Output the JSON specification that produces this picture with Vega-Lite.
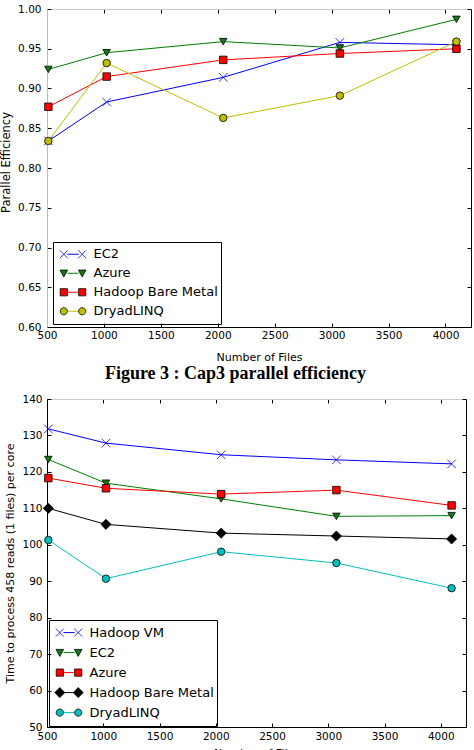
{
  "$schema": "https://vega.github.io/schema/vega-lite/v6.json",
  "padding": {"left": 0, "top": 4, "right": 0, "bottom": 0},
  "background": "white",
  "datasets": {
    "eff": [
      {"series": "EC2", "files": 512, "value": 0.834},
      {"series": "EC2", "files": 1024, "value": 0.883},
      {"series": "EC2", "files": 2048, "value": 0.914},
      {"series": "EC2", "files": 3072, "value": 0.958},
      {"series": "EC2", "files": 4096, "value": 0.955},
      {"series": "Azure", "files": 512, "value": 0.924},
      {"series": "Azure", "files": 1024, "value": 0.945},
      {"series": "Azure", "files": 2048, "value": 0.959},
      {"series": "Azure", "files": 3072, "value": 0.951},
      {"series": "Azure", "files": 4096, "value": 0.987},
      {"series": "Hadoop Bare Metal", "files": 512, "value": 0.877},
      {"series": "Hadoop Bare Metal", "files": 1024, "value": 0.915},
      {"series": "Hadoop Bare Metal", "files": 2048, "value": 0.936},
      {"series": "Hadoop Bare Metal", "files": 3072, "value": 0.944},
      {"series": "Hadoop Bare Metal", "files": 4096, "value": 0.950},
      {"series": "DryadLINQ", "files": 512, "value": 0.834},
      {"series": "DryadLINQ", "files": 1024, "value": 0.932},
      {"series": "DryadLINQ", "files": 2048, "value": 0.863},
      {"series": "DryadLINQ", "files": 3072, "value": 0.891},
      {"series": "DryadLINQ", "files": 4096, "value": 0.959}
    ],
    "time": [
      {"series": "Hadoop VM", "files": 512, "value": 131.8},
      {"series": "Hadoop VM", "files": 1024, "value": 127.9},
      {"series": "Hadoop VM", "files": 2048, "value": 124.7},
      {"series": "Hadoop VM", "files": 3072, "value": 123.3},
      {"series": "Hadoop VM", "files": 4096, "value": 122.2},
      {"series": "EC2", "files": 512, "value": 123.4},
      {"series": "EC2", "files": 1024, "value": 116.9},
      {"series": "EC2", "files": 2048, "value": 112.6},
      {"series": "EC2", "files": 3072, "value": 107.8},
      {"series": "EC2", "files": 4096, "value": 108.0},
      {"series": "Azure", "files": 512, "value": 118.3},
      {"series": "Azure", "files": 1024, "value": 115.5},
      {"series": "Azure", "files": 2048, "value": 113.9},
      {"series": "Azure", "files": 3072, "value": 115.0},
      {"series": "Azure", "files": 4096, "value": 110.8},
      {"series": "Hadoop Bare Metal", "files": 512, "value": 110.0},
      {"series": "Hadoop Bare Metal", "files": 1024, "value": 105.6},
      {"series": "Hadoop Bare Metal", "files": 2048, "value": 103.2},
      {"series": "Hadoop Bare Metal", "files": 3072, "value": 102.4},
      {"series": "Hadoop Bare Metal", "files": 4096, "value": 101.6},
      {"series": "DryadLINQ", "files": 512, "value": 101.3},
      {"series": "DryadLINQ", "files": 1024, "value": 90.7},
      {"series": "DryadLINQ", "files": 2048, "value": 98.1},
      {"series": "DryadLINQ", "files": 3072, "value": 95.0},
      {"series": "DryadLINQ", "files": 4096, "value": 88.1}
    ]
  },
  "bounds": "flush",
  "spacing": 72,
  "resolve": {"scale": {"color": "independent", "fill": "independent", "stroke": "independent", "shape": "independent"}, "legend": {"color": "independent", "fill": "independent", "stroke": "independent", "shape": "independent"}},
  "vconcat": [
    {
      "width": 424,
      "height": 318,
      "data": {"name": "eff"},
      "layer": [
        {
          "mark": {"type": "line", "strokeWidth": 1},
          "encoding": {
            "x": {"field": "files", "type": "quantitative", "scale": {"domain": [500, 4224], "nice": false, "zero": false},
              "axis": {"orient": "bottom", "values": [500, 1000, 1500, 2000, 2500, 3000, 3500, 4000], "format": "d", "tickSize": -4, "labelPadding": 7, "labelFontSize": 10.5, "labelFlush": false, "domainColor": "black", "title": "Number of Files", "titleFontSize": 11, "titlePadding": 11}},
            "y": {"field": "value", "type": "quantitative", "scale": {"domain": [0.6, 1.0], "nice": false, "zero": false},
              "axis": {"orient": "left", "values": [0.6, 0.65, 0.7, 0.75, 0.8, 0.85, 0.9, 0.95, 1.0], "format": ".2f", "tickSize": -4, "labelPadding": 10, "labelFontSize": 10.5, "domainColor": "#bbbbbb", "title": "Parallel Efficiency", "titleFontSize": 11.5, "titlePadding": 6, "titleY": 153}},
            "color": {"field": "series", "type": "nominal",
              "scale": {"domain": ["EC2", "Azure", "Hadoop Bare Metal", "DryadLINQ"], "range": ["#0000ff", "#008000", "#ff0000", "#bfbf00"]},
              "legend": {"title": null, "orient": "none", "legendX": 6, "legendY": 233, "strokeColor": "black", "padding": 3, "rowPadding": 0, "clipHeight": 18.5, "symbolType": "M-1.4,0H1.4", "symbolSize": 64, "symbolStrokeWidth": 1, "symbolOffset": 10.5, "labelOffset": 14, "labelFontSize": 13, "labelFont": "DejaVu Sans", "labelColor": "black", "labelLimit": 400}}
          }
        },
        {
          "mark": {"type": "point", "filled": true, "size": 56, "strokeWidth": 0.8, "opacity": 1},
          "encoding": {
            "x": {"field": "files", "type": "quantitative", "scale": {"domain": [500, 4224], "nice": false, "zero": false},
              "axis": {"orient": "top", "values": [500, 1000, 1500, 2000, 2500, 3000, 3500, 4000], "labels": false, "tickSize": -4, "domainColor": "#cccccc", "title": null}},
            "y": {"field": "value", "type": "quantitative", "scale": {"domain": [0.6, 1.0], "nice": false, "zero": false},
              "axis": {"orient": "right", "values": [0.6, 0.65, 0.7, 0.75, 0.8, 0.85, 0.9, 0.95, 1.0], "labels": false, "tickSize": -4, "domainColor": "black", "title": null}},
            "fill": {"field": "series", "type": "nominal", "legend": null,
              "scale": {"domain": ["EC2", "Azure", "Hadoop Bare Metal", "DryadLINQ"], "range": ["#0000ff", "#137a13", "#ff0000", "#bfbf00"]}},
            "stroke": {"field": "series", "type": "nominal", "legend": null,
              "scale": {"domain": ["EC2", "Azure", "Hadoop Bare Metal", "DryadLINQ"], "range": ["#0000ff", "#000000", "#000000", "#000000"]}},
            "shape": {"field": "series", "type": "nominal", "legend": null,
              "scale": {"domain": ["EC2", "Azure", "Hadoop Bare Metal", "DryadLINQ"], "range": ["M-1.15,-1.15L1.15,1.15M-1.15,1.15L1.15,-1.15", "triangle-down", "square", "circle"]}}
          }
        },
        {
          "mark": {"type": "point", "filled": true, "size": 0, "strokeWidth": 0.8},
          "encoding": {
            "x": {"field": "files", "type": "quantitative", "scale": {"domain": [500, 4224], "nice": false, "zero": false}, "axis": null},
            "y": {"field": "value", "type": "quantitative", "scale": {"domain": [0.6, 1.0], "nice": false, "zero": false}, "axis": null},
            "fill": {"field": "series", "type": "nominal",
              "scale": {"domain": ["EC2", "Azure", "Hadoop Bare Metal", "DryadLINQ"], "range": ["#0000ff", "#137a13", "#ff0000", "#bfbf00"]},
              "legend": {"title": null, "orient": "none", "legendX": 6, "legendY": 233, "padding": 3, "rowPadding": 0, "clipHeight": 18.5, "symbolSize": 64, "symbolStrokeWidth": 0.8, "symbolOffset": 10.5, "labelOffset": 14, "labelFontSize": 13, "labelFont": "DejaVu Sans", "labelOpacity": 0, "symbolOpacity": 1, "labelLimit": 400}},
            "stroke": {"field": "series", "type": "nominal",
              "scale": {"domain": ["EC2", "Azure", "Hadoop Bare Metal", "DryadLINQ"], "range": ["#0000ff", "#000000", "#000000", "#000000"]},
              "legend": {"title": null, "orient": "none", "legendX": 6, "legendY": 233, "padding": 3, "rowPadding": 0, "clipHeight": 18.5, "symbolSize": 64, "symbolStrokeWidth": 0.8, "symbolOffset": 10.5, "labelOffset": 14, "labelFontSize": 13, "labelFont": "DejaVu Sans", "labelOpacity": 0, "symbolOpacity": 1, "labelLimit": 400}},
            "shape": {"field": "series", "type": "nominal",
              "scale": {"domain": ["EC2", "Azure", "Hadoop Bare Metal", "DryadLINQ"], "range": [
                "M-3.3,-1L-1.3,1M-3.3,1L-1.3,-1M1.3,-1L3.3,1M1.3,1L3.3,-1",
                "M-3.25,-0.8L-1.35,-0.8L-2.3,0.95ZM1.35,-0.8L3.25,-0.8L2.3,0.95Z",
                "M-3.2,-0.9H-1.4V0.9H-3.2ZM1.4,-0.9H3.2V0.9H1.4Z",
                "M-3.2,0A0.9,0.9,0,1,0,-1.4,0A0.9,0.9,0,1,0,-3.2,0ZM1.4,0A0.9,0.9,0,1,0,3.2,0A0.9,0.9,0,1,0,1.4,0Z"]},
              "legend": {"title": null, "orient": "none", "legendX": 6, "legendY": 233, "padding": 3, "rowPadding": 0, "clipHeight": 18.5, "symbolSize": 64, "symbolStrokeWidth": 0.8, "symbolOffset": 10.5, "labelOffset": 14, "labelFontSize": 13, "labelFont": "DejaVu Sans", "labelOpacity": 0, "symbolOpacity": 1, "labelLimit": 400}}
          }
        }
      ],
      "resolve": {"scale": {"fill": "independent", "stroke": "independent", "shape": "independent"}, "axis": {"x": "independent", "y": "independent"}}
    },
    {
      "width": 419,
      "height": 328,
      "data": {"name": "time"},
      "title": {"text": "Figure 3 : Cap3 parallel efficiency", "font": "Liberation Serif", "fontSize": 18, "fontWeight": "bold", "color": "black", "anchor": "middle", "frame": "group", "dx": -21, "offset": 11},
      "layer": [
        {
          "mark": {"type": "line", "strokeWidth": 1},
          "encoding": {
            "x": {"field": "files", "type": "quantitative", "scale": {"domain": [500, 4224], "nice": false, "zero": false},
              "axis": {"orient": "bottom", "values": [500, 1000, 1500, 2000, 2500, 3000, 3500, 4000], "format": "d", "tickSize": -4, "labelPadding": 8, "labelFontSize": 10.5, "labelFlush": false, "domainColor": "black", "title": "Number of Files", "titleFontSize": 11, "titlePadding": 6}},
            "y": {"field": "value", "type": "quantitative", "scale": {"domain": [50, 140], "nice": false, "zero": false},
              "axis": {"orient": "left", "values": [50, 60, 70, 80, 90, 100, 110, 120, 130, 140], "tickSize": -4, "labelPadding": 9, "labelFontSize": 10.5, "domainColor": "black", "title": "Time to process 458 reads (1 files) per core", "titleFontSize": 11, "titlePadding": 6}},
            "color": {"field": "series", "type": "nominal",
              "scale": {"domain": ["Hadoop VM", "EC2", "Azure", "Hadoop Bare Metal", "DryadLINQ"], "range": ["#0000ff", "#008000", "#ff0000", "#000000", "#00bfbf"]},
              "legend": {"title": null, "orient": "none", "legendX": 2, "legendY": 221, "strokeColor": "black", "padding": 3, "rowPadding": 0, "clipHeight": 19.2, "symbolType": "M-1.4,0H1.4", "symbolSize": 64, "symbolStrokeWidth": 1, "symbolOffset": 10.5, "labelOffset": 14, "labelFontSize": 13, "labelFont": "DejaVu Sans", "labelColor": "black", "labelLimit": 400}}
          }
        },
        {
          "mark": {"type": "point", "filled": true, "size": 56, "strokeWidth": 0.8, "opacity": 1},
          "encoding": {
            "x": {"field": "files", "type": "quantitative", "scale": {"domain": [500, 4224], "nice": false, "zero": false},
              "axis": {"orient": "top", "values": [500, 1000, 1500, 2000, 2500, 3000, 3500, 4000], "labels": false, "tickSize": -4, "domainColor": "#cccccc", "title": null}},
            "y": {"field": "value", "type": "quantitative", "scale": {"domain": [50, 140], "nice": false, "zero": false},
              "axis": {"orient": "right", "values": [50, 60, 70, 80, 90, 100, 110, 120, 130, 140], "labels": false, "tickSize": -4, "domainColor": "black", "title": null}},
            "fill": {"field": "series", "type": "nominal", "legend": null,
              "scale": {"domain": ["Hadoop VM", "EC2", "Azure", "Hadoop Bare Metal", "DryadLINQ"], "range": ["#0000ff", "#137a13", "#ff0000", "#000000", "#00bfbf"]}},
            "stroke": {"field": "series", "type": "nominal", "legend": null,
              "scale": {"domain": ["Hadoop VM", "EC2", "Azure", "Hadoop Bare Metal", "DryadLINQ"], "range": ["#0000ff", "#000000", "#000000", "#000000", "#000000"]}},
            "shape": {"field": "series", "type": "nominal", "legend": null,
              "scale": {"domain": ["Hadoop VM", "EC2", "Azure", "Hadoop Bare Metal", "DryadLINQ"], "range": ["M-1.15,-1.15L1.15,1.15M-1.15,1.15L1.15,-1.15", "triangle-down", "square", "M0,-1.35L1.35,0L0,1.35L-1.35,0Z", "circle"]}}
          }
        },
        {
          "mark": {"type": "point", "filled": true, "size": 0, "strokeWidth": 0.8},
          "encoding": {
            "x": {"field": "files", "type": "quantitative", "scale": {"domain": [500, 4224], "nice": false, "zero": false}, "axis": null},
            "y": {"field": "value", "type": "quantitative", "scale": {"domain": [50, 140], "nice": false, "zero": false}, "axis": null},
            "fill": {"field": "series", "type": "nominal",
              "scale": {"domain": ["Hadoop VM", "EC2", "Azure", "Hadoop Bare Metal", "DryadLINQ"], "range": ["#0000ff", "#137a13", "#ff0000", "#000000", "#00bfbf"]},
              "legend": {"title": null, "orient": "none", "legendX": 2, "legendY": 221, "padding": 3, "rowPadding": 0, "clipHeight": 19.2, "symbolSize": 64, "symbolStrokeWidth": 0.8, "symbolOffset": 10.5, "labelOffset": 14, "labelFontSize": 13, "labelFont": "DejaVu Sans", "labelOpacity": 0, "symbolOpacity": 1, "labelLimit": 400}},
            "stroke": {"field": "series", "type": "nominal",
              "scale": {"domain": ["Hadoop VM", "EC2", "Azure", "Hadoop Bare Metal", "DryadLINQ"], "range": ["#0000ff", "#000000", "#000000", "#000000", "#000000"]},
              "legend": {"title": null, "orient": "none", "legendX": 2, "legendY": 221, "padding": 3, "rowPadding": 0, "clipHeight": 19.2, "symbolSize": 64, "symbolStrokeWidth": 0.8, "symbolOffset": 10.5, "labelOffset": 14, "labelFontSize": 13, "labelFont": "DejaVu Sans", "labelOpacity": 0, "symbolOpacity": 1, "labelLimit": 400}},
            "shape": {"field": "series", "type": "nominal",
              "scale": {"domain": ["Hadoop VM", "EC2", "Azure", "Hadoop Bare Metal", "DryadLINQ"], "range": [
                "M-3.3,-1L-1.3,1M-3.3,1L-1.3,-1M1.3,-1L3.3,1M1.3,1L3.3,-1",
                "M-3.25,-0.8L-1.35,-0.8L-2.3,0.95ZM1.35,-0.8L3.25,-0.8L2.3,0.95Z",
                "M-3.2,-0.9H-1.4V0.9H-3.2ZM1.4,-0.9H3.2V0.9H1.4Z",
                "M-2.3,-1.25L-1.05,0L-2.3,1.25L-3.55,0ZM2.3,-1.25L3.55,0L2.3,1.25L1.05,0Z",
                "M-3.2,0A0.9,0.9,0,1,0,-1.4,0A0.9,0.9,0,1,0,-3.2,0ZM1.4,0A0.9,0.9,0,1,0,3.2,0A0.9,0.9,0,1,0,1.4,0Z"]},
              "legend": {"title": null, "orient": "none", "legendX": 2, "legendY": 221, "padding": 3, "rowPadding": 0, "clipHeight": 19.2, "symbolSize": 64, "symbolStrokeWidth": 0.8, "symbolOffset": 10.5, "labelOffset": 14, "labelFontSize": 13, "labelFont": "DejaVu Sans", "labelOpacity": 0, "symbolOpacity": 1, "labelLimit": 400}}
          }
        }
      ],
      "resolve": {"scale": {"fill": "independent", "stroke": "independent", "shape": "independent"}, "axis": {"x": "independent", "y": "independent"}}
    }
  ],
  "config": {
    "view": {"stroke": null},
    "font": "DejaVu Sans",
    "axis": {"labelFont": "DejaVu Sans", "labelColor": "black", "tickColor": "black", "tickWidth": 1, "domainWidth": 1, "titleFont": "DejaVu Sans", "titleFontWeight": "normal", "titleColor": "black", "grid": false}
  }
}
